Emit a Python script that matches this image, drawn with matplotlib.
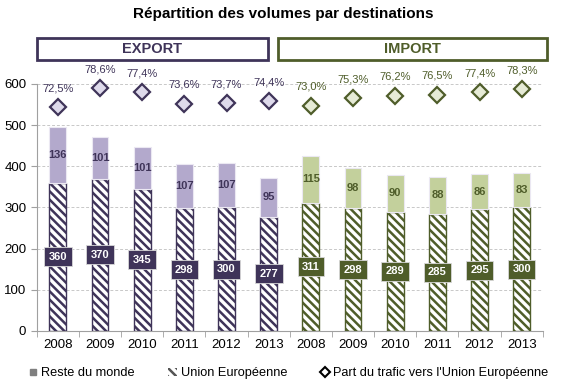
import matplotlib
matplotlib.use("Agg")
import matplotlib.pyplot as plt
from matplotlib.patches import Rectangle, Patch
from matplotlib.lines import Line2D
import numpy as np

plt.rcParams["font.family"] = ["Liberation Sans", "DejaVu Sans"]
plt.rcParams["hatch.linewidth"] = 1.8

years = ["2008", "2009", "2010", "2011", "2012", "2013"]
export_ue = [360, 370, 345, 298, 300, 277]
export_rdm = [136, 101, 101, 107, 107, 95]
export_part = [72.5, 78.6, 77.4, 73.6, 73.7, 74.4]
import_ue = [311, 298, 289, 285, 295, 300]
import_rdm = [115, 98, 90, 88, 86, 83]
import_part = [73.0, 75.3, 76.2, 76.5, 77.4, 78.3]

purple_dark = "#3f3459"
purple_light = "#b3a9cc"
purple_diam = "#dedaeb"
green_dark = "#4f5d2a"
green_light = "#c3d09c"
green_diam = "#e6ebd6"

fig = plt.figure(figsize=(5.66, 3.87), dpi=100)
ax = fig.add_axes([0.065, 0.145, 0.894, 0.638])
ax2 = ax.twinx()

groups = [
    (export_ue, export_rdm, export_part, purple_dark, purple_light, purple_diam, 0),
    (import_ue, import_rdm, import_part, green_dark, green_light, green_diam, 6),
]
w = 0.4
for ue, rdm, part, dark, light, diam, off in groups:
    x = np.arange(len(years)) + off
    ax.bar(x, ue, width=w, color="white", edgecolor=dark, hatch="\\\\\\\\", linewidth=1.0, zorder=3)
    ax.bar(x, rdm, bottom=ue, width=w, color=light, edgecolor="#ebe8f2", linewidth=0.8, zorder=3)
    for xi, u, r in zip(x, ue, rdm):
        ax.text(xi, u / 2, str(u), ha="center", va="center", color="white", fontsize=8,
                fontweight="bold", zorder=5,
                bbox=dict(boxstyle="square,pad=0.4", fc=dark, ec="#d8d8d8", lw=0.6))
        ax.text(xi, u + r / 2, str(r), ha="center", va="center", color=dark, fontsize=8,
                fontweight="bold", zorder=5)
    ax2.plot(x, part, linestyle="none", marker="D", markersize=8, markerfacecolor=diam,
             markeredgecolor=dark, markeredgewidth=1.6, clip_on=False, zorder=5)
    for xi, p in zip(x, part):
        ax2.annotate(f"{p:.1f}%".replace(".", ","), (xi, p), xytext=(0, 10), textcoords="offset points",
                     ha="center", va="bottom", color=dark, fontsize=8, annotation_clip=False)

ax.set_xlim(-0.5, 11.5)
ax.set_ylim(0, 600)
ax2.set_ylim(0, 80)
ax2.axis("off")
ax.set_yticks(range(0, 601, 100))
ax.set_xticks(range(12))
ax.set_xticklabels(years + years)
ax.set_xticks(np.arange(-0.5, 12, 1), minor=True)
ax.tick_params(axis="x", which="major", length=0, labelsize=9.5, pad=6)
ax.tick_params(axis="x", which="minor", length=4, color="#a0a0a0")
ax.tick_params(axis="y", length=4, color="#a0a0a0", labelsize=9.5)
ax.yaxis.grid(True, linestyle=(0, (3, 2)), color="#c8c8c8", linewidth=0.7, zorder=0)
ax.set_axisbelow(True)
for s in ["top", "right"]:
    ax.spines[s].set_visible(False)
ax.spines["left"].set_color("#a0a0a0")
ax.spines["bottom"].set_color("#a0a0a0")

fig.text(0.5, 0.965, "Répartition des volumes par destinations", ha="center", va="center",
         fontsize=11, fontweight="bold")

for x0, wd, label, col in [(0.0645, 0.409, "EXPORT", purple_dark), (0.492, 0.475, "IMPORT", green_dark)]:
    fig.patches.append(Rectangle((x0, 0.846), wd, 0.057, transform=fig.transFigure,
                                 fill=False, edgecolor=col, linewidth=2))
    fig.text(x0 + wd / 2, 0.8745, label, ha="center", va="center", fontsize=10.5,
             fontweight="bold", color=col)

handles = [
    Line2D([], [], linestyle="none", marker="s", markersize=5, color="#7f7f7f"),
    Patch(facecolor="white", edgecolor="#555555", hatch="\\\\\\\\", linewidth=0),
    Line2D([], [], linestyle="none", marker="D", markersize=5, markerfacecolor="white",
           markeredgecolor="black", markeredgewidth=1.5),
]
fig.legend(handles, ["Reste du monde", "Union Européenne", "Part du trafic vers l'Union Européenne"],
           loc="center", bbox_to_anchor=(0.51, 0.035), ncol=3, frameon=False, fontsize=9.2,
           handlelength=0.7, handletextpad=0.3, columnspacing=2.6)

fig.savefig("out.png", dpi=100)
